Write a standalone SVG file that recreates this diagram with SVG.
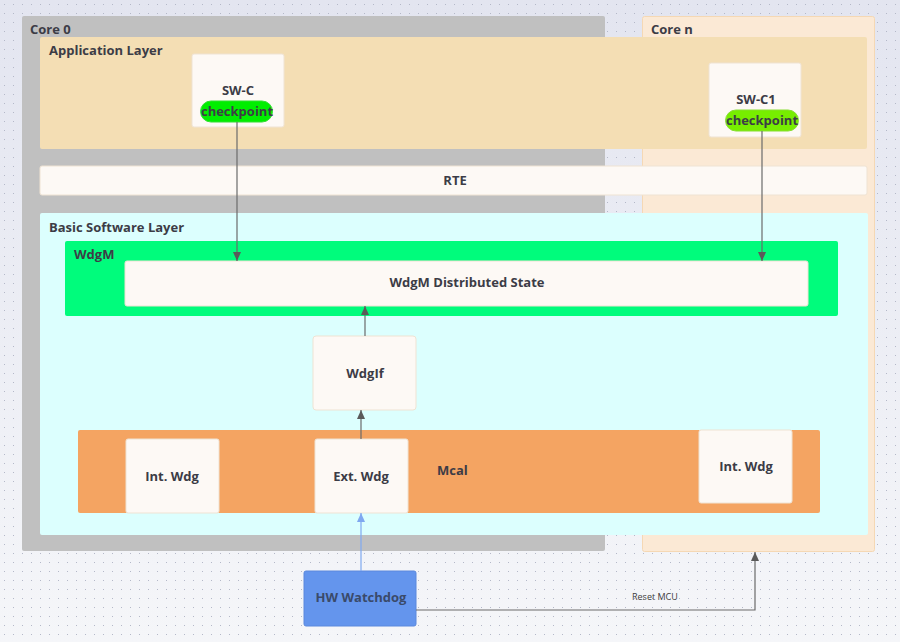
<svg xmlns="http://www.w3.org/2000/svg" width="900" height="642" viewBox="0 0 900 642">
<defs>
<linearGradient id="bg" x1="0" y1="0" x2="0" y2="1">
<stop offset="0" stop-color="#e3e5f0"/>
<stop offset="1" stop-color="#f5f6f9"/>
</linearGradient>
<pattern id="dots" width="9" height="9" patternUnits="userSpaceOnUse">
<rect x="4" y="4" width="1" height="1" fill="#b4b8c8"/>
</pattern>
<marker id="arr" markerWidth="10" markerHeight="10" refX="9" refY="5" orient="auto" markerUnits="userSpaceOnUse">
<path d="M0,1 L9,5 L0,9 Z" fill="#5a5a5a"/>
</marker>
<marker id="arrb" markerWidth="10" markerHeight="10" refX="9" refY="5" orient="auto" markerUnits="userSpaceOnUse">
<path d="M0,1 L9,5 L0,9 Z" fill="#7fa8f0"/>
</marker>
<style>
text{font-family:"Open Sans","Noto Sans","Liberation Sans",sans-serif;font-weight:bold;fill:#3c3c46;font-size:13px}
.c{text-anchor:middle}
.box{fill:#fdf9f5;stroke:#efe3d3;stroke-width:1}
.line{stroke:#6a6a6a;stroke-width:1.2;fill:none}
</style>
</defs>
<rect width="900" height="642" fill="url(#bg)"/>
<rect width="900" height="642" fill="url(#dots)"/>

<g id="core0">
<rect x="22" y="16" width="583" height="535" rx="2" fill="#c0c0c0"/>
<text x="30" y="34">Core 0</text>
</g>
<g id="coren">
<rect x="642.5" y="16.5" width="232" height="535" rx="2" fill="#fbe9d5" stroke="#f5d8b4"/>
<text x="651" y="34">Core n</text>
</g>
<g id="app-layer">
<rect x="40" y="37" width="827" height="112" rx="2" fill="#f4deb4"/>
<text x="49" y="55">Application Layer</text>
</g>
<g id="swc">
<rect class="box" x="192" y="54" width="92" height="73" rx="2"/>
<text class="c" x="238" y="95">SW-C</text>
<rect x="200.5" y="101" width="72" height="21" rx="10.5" fill="#00ee00" stroke="#33dd33"/>
<text class="c" x="237" y="116">checkpoint</text>
</g>
<g id="swc1">
<rect class="box" x="709" y="63" width="92" height="74" rx="2"/>
<text class="c" x="756" y="104">SW-C1</text>
<rect x="725.5" y="110" width="73" height="21" rx="10.5" fill="#77ee00" stroke="#88dd33"/>
<text class="c" x="762" y="125">checkpoint</text>
</g>
<g id="rte">
<rect class="box" x="40" y="166" width="827" height="29" rx="2"/>
<text class="c" x="455" y="185">RTE</text>
</g>
<g id="bsw">
<rect x="40" y="213" width="828" height="322" rx="2" fill="#dcfffe"/>
<text x="49" y="232">Basic Software Layer</text>
</g>
<g id="wdgm">
<rect x="65" y="241" width="773" height="75" rx="2" fill="#00fc7c"/>
<text x="74" y="259">WdgM</text>
</g>
<g id="wdgm-state">
<rect class="box" x="125" y="261" width="683" height="45" rx="2"/>
<text class="c" x="467" y="287">WdgM Distributed State</text>
</g>
<g id="wdgif">
<rect class="box" x="313" y="336" width="103" height="74" rx="3"/>
<text class="c" x="365" y="378">WdgIf</text>
</g>
<g id="mcal">
<rect x="78" y="430" width="742" height="83" rx="2" fill="#f4a462"/>
<text x="437" y="475">Mcal</text>
</g>
<g id="int-wdg-0">
<rect class="box" x="126" y="439" width="93" height="74" rx="2"/>
<text class="c" x="172" y="481">Int. Wdg</text>
</g>
<g id="ext-wdg">
<rect class="box" x="315" y="439" width="93" height="74" rx="2"/>
<text class="c" x="361" y="481">Ext. Wdg</text>
</g>
<g id="int-wdg-n">
<rect class="box" x="699" y="430" width="93" height="73" rx="2"/>
<text class="c" x="746" y="471">Int. Wdg</text>
</g>
<g id="hw-watchdog">
<rect x="304" y="571" width="112" height="55" rx="2" fill="#6495ed" stroke="#5a88dd"/>
<text class="c" x="361" y="602" style="fill:#3a4a6a">HW Watchdog</text>
</g>

<g id="connectors">
<line class="line" x1="237" y1="122" x2="237" y2="261" marker-end="url(#arr)"/>
<line class="line" x1="762" y1="131" x2="762" y2="261" marker-end="url(#arr)"/>
<line class="line" x1="365" y1="336" x2="365" y2="306" marker-end="url(#arr)"/>
<line class="line" x1="361" y1="439" x2="361" y2="410" marker-end="url(#arr)"/>
<line x1="361" y1="571" x2="361" y2="513" stroke="#7fa8f0" stroke-width="1.2" marker-end="url(#arrb)"/>
<polyline class="line" points="416,610 755,610 755,552" marker-end="url(#arr)"/>
<text x="632" y="600" style="font-weight:normal;font-size:9px;fill:#3c3c3c">Reset MCU</text>
</g>
</svg>
